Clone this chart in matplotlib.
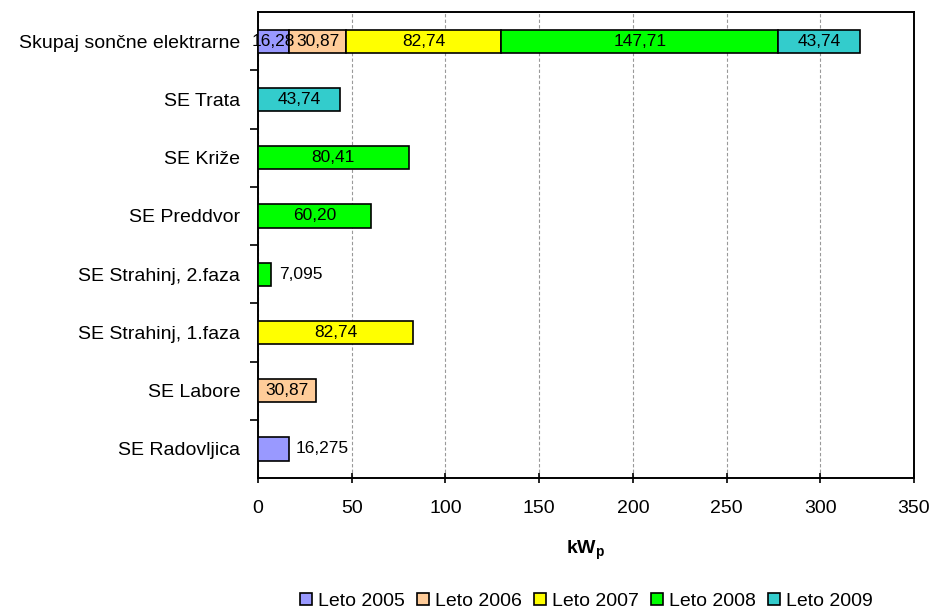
import numpy as np
import matplotlib
matplotlib.use("Agg")
import matplotlib.pyplot as plt
from matplotlib.ticker import FixedLocator

plt.rcParams['font.family'] = ['Liberation Sans', 'DejaVu Sans']
plt.rcParams['mathtext.fontset'] = 'custom'
plt.rcParams['mathtext.rm'] = 'Liberation Sans'
plt.rcParams['mathtext.bf'] = 'Liberation Sans:bold'

# data (kWp)
stations = ['SE Radovljica', 'SE Labore', 'SE Strahinj, 1.faza', 'SE Strahinj, 2.faza',
            'SE Preddvor', 'SE Križe', 'SE Trata']
station_kw = [16.275, 30.87, 82.74, 7.095, 60.20, 80.41, 43.74]
station_labels = ['16,275', '30,87', '82,74', '7,095', '60,20', '80,41', '43,74']
station_year = [2005, 2006, 2007, 2008, 2008, 2008, 2009]

total_name = 'Skupaj sončne elektrarne'
years = [2005, 2006, 2007, 2008, 2009]
year_kw = [16.28, 30.87, 82.74, 147.71, 43.74]
year_labels = ['16,28', '30,87', '82,74', '147,71', '43,74']
year_colors = ['#9999FF', '#FFCC99', '#FFFF00', '#00FF00', '#33CCCC']

fig = plt.figure(figsize=(9.35, 6.1), dpi=100)
ax = fig.add_axes([0.276, 0.2164, 0.7015, 0.7636])

h = 0.4
lblsize = 12.5
color_of = dict(zip(years, year_colors))

# single stations
ypos = np.arange(len(stations))
for y, v, lab, yr in zip(ypos, station_kw, station_labels, station_year):
    ax.barh(y, v, height=h, color=color_of[yr], edgecolor='black', linewidth=1.2, zorder=3)
    if v < 20:
        ax.text(v + 4, y, lab, ha='left', va='center', fontsize=lblsize, zorder=4)
    else:
        ax.text(v / 2, y, lab, ha='center', va='center', fontsize=lblsize, zorder=4)

# stacked total
ytot = len(stations)
left = 0
handles = []
for yr, v, lab, c in zip(years, year_kw, year_labels, year_colors):
    b = ax.barh(ytot, v, left=left, height=h, color=c, edgecolor='black', linewidth=1.2,
                zorder=3, label='Leto %d' % yr)
    handles.append(b)
    ax.text(left + v / 2, ytot, lab, ha='center', va='center', fontsize=lblsize, zorder=4)
    left += v

ax.set_xlim(0, 350)
ax.set_ylim(-0.5, ytot + 0.5)
ax.set_xticks(np.arange(0, 351, 50))
ax.set_yticks(list(ypos) + [ytot])
ax.set_yticklabels(stations + [total_name], fontsize=14)
ax.yaxis.set_minor_locator(FixedLocator(np.arange(0.5, ytot, 1.0)))
ax.tick_params(axis='y', which='major', length=0, pad=13)
ax.tick_params(axis='y', which='minor', length=6, direction='out', width=1.2)
ax.tick_params(axis='x', which='major', length=7, direction='inout', width=1.2, labelsize=14, pad=12)

ax.grid(axis='x', color='#999999', linestyle=(0, (3, 2)), linewidth=0.8, zorder=0)
for s in ax.spines.values():
    s.set_linewidth(1.4)

ax.set_xlabel(r'$\mathbf{kW_p}$', fontsize=14, labelpad=16)

fig.legend(handles=handles, loc='center', bbox_to_anchor=(0.627, 0.014), ncol=5,
           frameon=False, fontsize=14, handlelength=0.6, handleheight=0.6,
           handletextpad=0.3, columnspacing=0.65, borderpad=0)

fig.savefig('out.png', dpi=100)
